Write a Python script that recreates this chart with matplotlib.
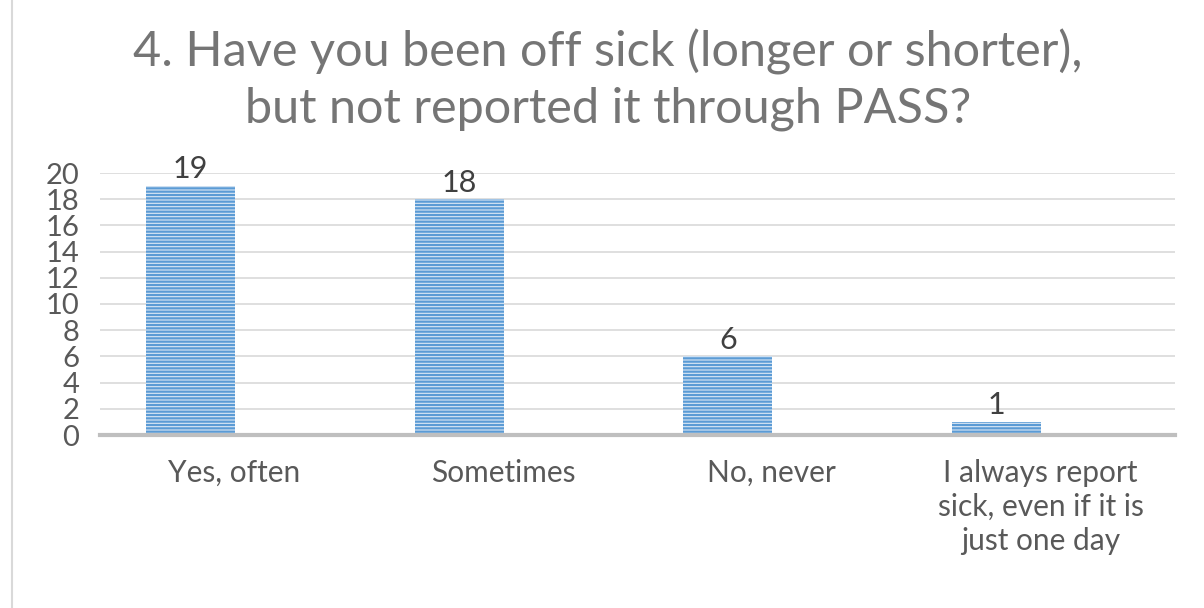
import matplotlib
matplotlib.use("Agg")
import matplotlib.pyplot as plt
from matplotlib.lines import Line2D

categories = ["Yes, often", "Sometimes", "No, never",
              "I always report\nsick, even if it is\njust one day"]
values = [19, 18, 6, 1]
yticks = list(range(0, 21, 2))
title = "4. Have you been off sick (longer or shorter),\nbut not reported it through PASS?"

plt.rcParams['font.family'] = ['Lato', 'DejaVu Sans']
plt.rcParams['hatch.linewidth'] = 1.6

fig = plt.figure(figsize=(12.04, 6.08), dpi=100)
fig.patch.set_facecolor("white")
ax = fig.add_axes([100/1204, 1-435/608, 1075/1204, 262/608])

xs = list(range(len(categories)))
bx = [x - 0.164 for x in xs]
bars = ax.bar(bx, values, width=0.331, color="#dce8f5", edgecolor="#5b9bd5",
              hatch="-----", linewidth=0, zorder=3)
for x, v in zip(bx, values):
    ax.text(x, v + 0.2, str(v), ha="center", va="bottom", fontsize=22,
            color="#404040", zorder=4)

ax.set_xlim(-0.5, 3.5)
ax.set_ylim(0, 20)
ax.set_yticks(yticks)
ax.set_yticklabels([str(t) for t in yticks], fontsize=21, color="#595959")
ax.set_xticks(xs)
ax.set_xticklabels(categories, fontsize=21.5, color="#595959", linespacing=1.26, va="top")
ax.tick_params(axis="both", length=0)
ax.tick_params(axis="y", pad=15)
ax.tick_params(axis="x", pad=17)
ax.grid(axis="y", color="#d9d9d9", linewidth=1.2, zorder=0)
for s in ["top", "right", "left"]:
    ax.spines[s].set_visible(False)
ax.spines["bottom"].set_color("#bfbfbf")
ax.spines["bottom"].set_linewidth(3)
ax.spines["bottom"].set_zorder(5)

fig.text(608/1204, 1-80/608, title, ha="center", va="center", fontsize=35,
         color="#757575", linespacing=1.3)

fig.add_artist(Line2D([12/1204, 12/1204], [0, 1], transform=fig.transFigure,
                      color="#d9d9d9", linewidth=1.5))

fig.savefig("out.png", dpi=100)
